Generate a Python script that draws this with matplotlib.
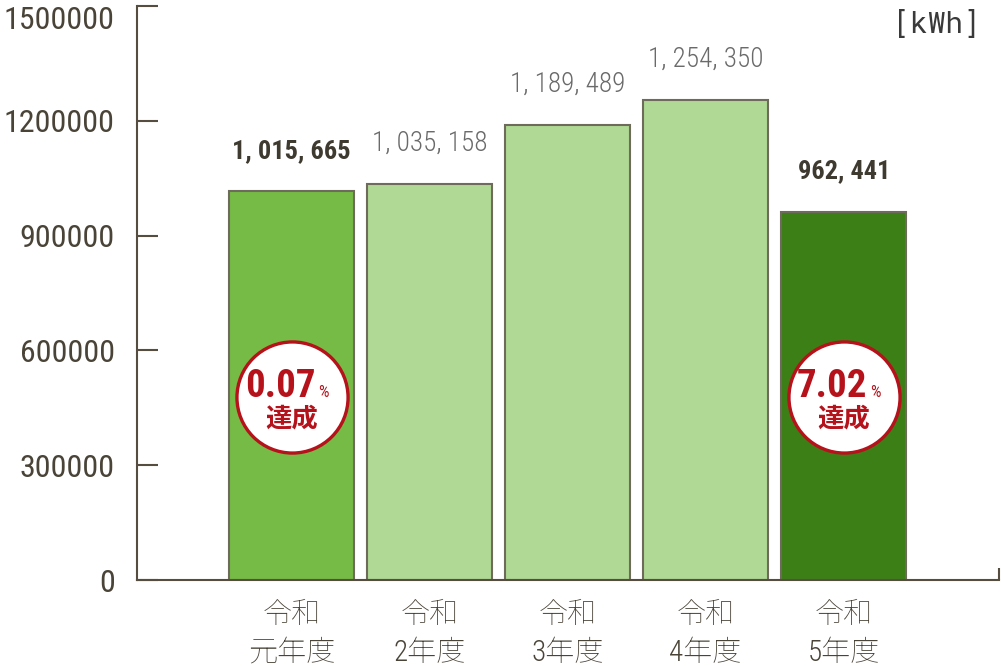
import matplotlib
matplotlib.use("Agg")
from matplotlib import pyplot as plt

# data
years = ["令和\n元年度", "令和\n2年度", "令和\n3年度", "令和\n4年度", "令和\n5年度"]
usage_kwh = [1015665, 1035158, 1189489, 1254350, 962441]
highlight = [True, False, False, False, True]
reduction_pct = {0: "0.07", 4: "7.02"}
yticks = [0, 300000, 600000, 900000, 1200000, 1500000]

bar_colors = ["#76bb45", "#afd994", "#afd994", "#afd994", "#3c7f16"]
axis_col = "#554d40"
text_col = "#4a4438"
red = "#b5121b"
num_font = ["Roboto Condensed", "DejaVu Sans"]
jp_font = ["Roboto Condensed", "Noto Sans JP", "Noto Sans CJK JP"]

plt.rcParams["font.family"] = jp_font

fig = plt.figure(figsize=(10.01, 6.66), dpi=100)
ax = fig.add_axes([137 / 1001, 86 / 666, 862 / 1001, 574 / 666])

x = list(range(len(usage_kwh)))
ax.bar(x, usage_kwh, width=0.906, color=bar_colors, edgecolor="#6e6a5c",
       linewidth=1.5, zorder=2)

ax.set_xlim(-1.12, 5.125)
ax.set_ylim(0, 1500000)
ax.set_yticks(yticks)
ax.set_yticklabels([str(v) for v in yticks], fontsize=23, color=text_col,
                   family=num_font)
# top label sits below its tick so it stays inside the picture
ax.get_yticklabels()[-1].set_va("top")
ax.set_xticks(x)
ax.set_xticklabels(years, fontsize=21, color=text_col, family=jp_font,
                   linespacing=1.45, fontweight="light")
ax.tick_params(axis="y", direction="in", length=15, width=1.5, color=axis_col, pad=16)
ax.tick_params(axis="x", length=0, pad=15)

for s in ["top", "right"]:
    ax.spines[s].set_visible(False)
for s in ["left", "bottom"]:
    ax.spines[s].set_color(axis_col)
    ax.spines[s].set_linewidth(1.5)
# little end mark at right of baseline
ax.plot([1, 1], [0, 0.021], transform=ax.transAxes, color=axis_col, lw=1.5,
        clip_on=False, solid_capstyle="butt")

# value labels
for i, v in enumerate(usage_kwh):
    lab = f"{v:,}".replace(",", ", ")
    if highlight[i]:
        ax.annotate(lab, (i, v), xytext=(0, 24), textcoords="offset points",
                    ha="center", va="baseline", fontsize=19, fontweight="bold",
                    color="#3f3a30", family=num_font)
    else:
        ax.annotate(lab, (i, v), xytext=(0, 24), textcoords="offset points",
                    ha="center", va="baseline", fontsize=19.5, fontweight="light",
                    color="#6a6a6a", family=num_font)

# achievement badges
for i, pct in reduction_pct.items():
    yc = 478000
    ax.scatter([i], [yc], s=6400, facecolor="white", edgecolor=red,
               linewidth=2.4, zorder=3)
    ax.annotate(pct, (i, yc), xytext=(17, 0), textcoords="offset points",
                ha="right", va="baseline", fontsize=28, fontweight="bold",
                color=red, family=num_font, zorder=4)
    ax.annotate("%", (i, yc), xytext=(19, 0), textcoords="offset points",
                ha="left", va="baseline", fontsize=12, color=red,
                family=num_font, zorder=4)
    ax.annotate("達成", (i, yc), xytext=(0, -15.5), textcoords="offset points",
                ha="center", va="center", fontsize=19, fontweight="bold",
                color=red, family=["Noto Sans CJK JP", "Noto Sans JP"], zorder=4)

fig.text(980 / 1001, 1 - 25 / 666, "[kWh]", ha="right", va="center",
         fontsize=21, color="#3a3a3a", family=["Roboto Mono", "DejaVu Sans Mono"],
         fontweight="light")

fig.savefig("out.png", dpi=100)
